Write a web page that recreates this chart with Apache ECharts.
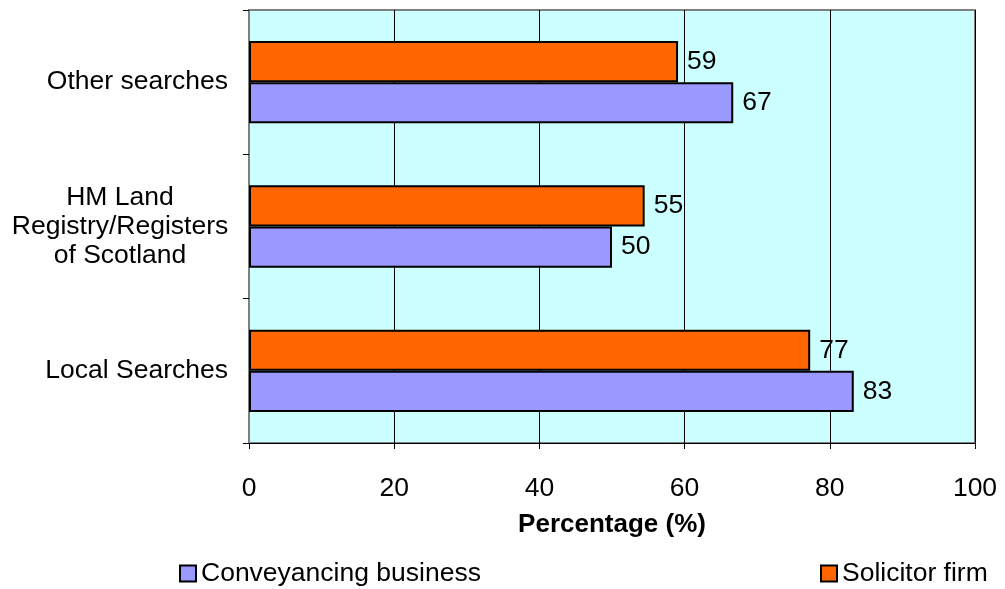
<!DOCTYPE html>
<html>
<head>
<meta charset="utf-8">
<script src="https://cdn.jsdelivr.net/npm/echarts@6/dist/echarts.min.js"></script>
<style>
  html, body { margin: 0; padding: 0; background: #fff; }
  #main { width: 1005px; height: 589px; }
</style>
</head>
<body>
<div id="main"></div>
<script>
var categories = ['Local Searches', 'HM Land\nRegistry/Registers\nof Scotland', 'Other searches'];
var conveyancing = [83.3, 50, 66.7];
var solicitor = [77.3, 54.5, 59.1];
var xTicks = [0, 20, 40, 60, 80, 100];

var FONT = 'Arial, "Liberation Sans", sans-serif';
var FS = 26.5;
var myChart = echarts.init(document.getElementById('main'));

function roundLabel(p) {
  return Math.round(p.value);
}

var legendText = { fontFamily: FONT, fontSize: FS, color: '#000' };

myChart.setOption({
  animation: false,
  textStyle: { fontFamily: FONT, color: '#000' },
  legend: [
    {
      left: 174,
      top: 555,
      icon: 'rect',
      itemWidth: 16,
      itemHeight: 16,
      data: ['Conveyancing business'],
      textStyle: legendText
    },
    {
      left: 815,
      top: 555,
      icon: 'rect',
      itemWidth: 16,
      itemHeight: 16,
      data: ['Solicitor firm'],
      textStyle: legendText
    }
  ],
  grid: {
    left: 249,
    right: 30,
    top: 10,
    bottom: 146,
    show: true,
    backgroundColor: '#CCFFFF',
    borderColor: '#808080',
    borderWidth: 2
  },
  xAxis: {
    type: 'value',
    min: xTicks[0],
    max: xTicks[xTicks.length - 1],
    interval: 20,
    name: 'Percentage (%)',
    nameLocation: 'middle',
    nameGap: 69,
    nameTextStyle: { fontFamily: FONT, fontSize: 26, fontWeight: 'bold', color: '#000' },
    axisLine: { show: true, lineStyle: { color: '#000', width: 1 } },
    axisTick: { show: true, length: 6, lineStyle: { color: '#000' } },
    axisLabel: { margin: 32, fontSize: FS, fontFamily: FONT, color: '#000' },
    splitLine: { show: true, lineStyle: { color: '#000', width: 1 } }
  },
  yAxis: {
    type: 'category',
    data: categories,
    axisLine: { show: true, lineStyle: { color: '#808080', width: 2 } },
    axisTick: { show: true, length: 6, lineStyle: { color: '#000' } },
    axisLabel: {
      margin: 21,
      fontSize: FS,
      lineHeight: 29,
      fontFamily: FONT,
      color: '#000',
      formatter: function (v) {
        return v.indexOf('\n') >= 0 ? '{c|' + v + '}' : v;
      },
      rich: {
        c: { width: 216, align: 'center', fontSize: FS, lineHeight: 29, fontFamily: FONT, color: '#000' }
      }
    }
  },
  series: [
    {
      name: 'Solicitor firm',
      type: 'bar',
      data: solicitor,
      barGap: '0%',
      barCategoryGap: '43%',
      itemStyle: { color: '#FF6600', borderColor: '#000', borderWidth: 2 },
      label: { show: true, position: 'right', distance: 9, fontSize: FS, fontFamily: FONT, color: '#000', formatter: roundLabel }
    },
    {
      name: 'Conveyancing business',
      type: 'bar',
      data: conveyancing,
      barGap: '0%',
      barCategoryGap: '43%',
      itemStyle: { color: '#9999FF', borderColor: '#000', borderWidth: 2 },
      label: { show: true, position: 'right', distance: 9, fontSize: FS, fontFamily: FONT, color: '#000', formatter: roundLabel }
    }
  ]
});
</script>
</body>
</html>
